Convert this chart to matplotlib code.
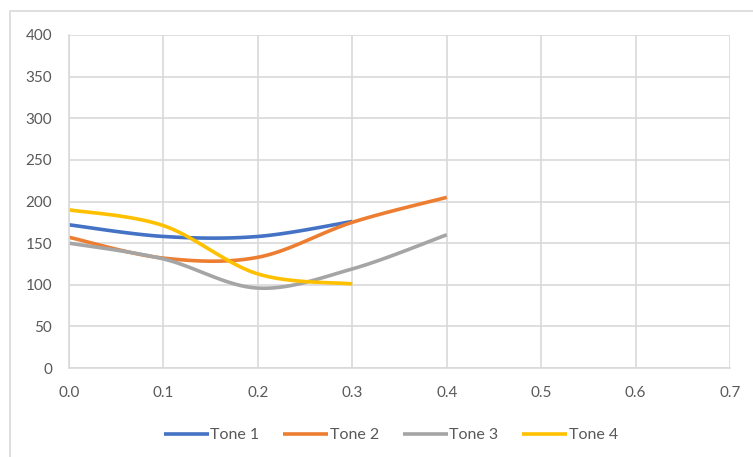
import numpy as np
import matplotlib
matplotlib.use("Agg")
import matplotlib.pyplot as plt
from matplotlib.patches import Rectangle

# data
x_vals = [0.0, 0.1, 0.2, 0.3, 0.4]
tone1 = [172, 158, 158, 176]
tone2 = [157, 132, 133, 175, 205]
tone3 = [150, 131, 96, 119, 160]
tone4 = [190, 171, 113, 101]
names = ["Tone 1", "Tone 2", "Tone 3", "Tone 4"]
colors = ["#4472c4", "#ed7d31", "#a5a5a5", "#ffc000"]


def smooth(xs, ys, n=30):
    # excel-style smoothed line: bezier through points
    xs = np.asarray(xs, float)
    ys = np.asarray(ys, float)
    px, py = [], []
    for i in range(len(xs) - 1):
        x0, y0 = xs[max(i - 1, 0)], ys[max(i - 1, 0)]
        x1, y1 = xs[i], ys[i]
        x2, y2 = xs[i + 1], ys[i + 1]
        x3, y3 = xs[min(i + 2, len(xs) - 1)], ys[min(i + 2, len(ys) - 1)]
        c1x, c1y = x1 + (x2 - x0) / 6, y1 + (y2 - y0) / 6
        c2x, c2y = x2 - (x3 - x1) / 6, y2 - (y3 - y1) / 6
        t = np.linspace(0, 1, n)
        a = (1 - t) ** 3
        b = 3 * (1 - t) ** 2 * t
        c = 3 * (1 - t) * t ** 2
        d = t ** 3
        px.extend(a * x1 + b * c1x + c * c2x + d * x2)
        py.extend(a * y1 + b * c1y + c * c2y + d * y2)
    return px, py


plt.rcParams['font.family'] = ['Lato', 'DejaVu Sans']
fig = plt.figure(figsize=(7.53, 4.57), dpi=100)
ax = fig.add_axes([69 / 753, 89 / 457, 661 / 753, 333 / 457])

for ys, name, col in zip([tone1, tone2, tone3, tone4], names, colors):
    sx, sy = smooth(x_vals[:len(ys)], ys)
    ax.plot(sx, sy, color=col, lw=2.6, label=name, solid_capstyle='butt')

ax.set_xlim(0, 0.7)
ax.set_ylim(0, 400)
ax.set_xticks(np.arange(0, 0.71, 0.1))
ax.set_xticklabels(["%.1f" % v for v in np.arange(0, 0.71, 0.1)])
ax.set_yticks(range(0, 401, 50))
ax.grid(True, color="#d9d9d9", lw=1.2)
ax.set_axisbelow(True)
for s in ax.spines.values():
    s.set_visible(False)
ax.spines['left'].set_visible(True)
ax.spines['bottom'].set_visible(True)
ax.spines['left'].set_color("#d9d9d9")
ax.spines['bottom'].set_color("#d9d9d9")
ax.spines['left'].set_linewidth(1.2)
ax.spines['bottom'].set_linewidth(1.2)
ax.tick_params(length=0, labelsize=11, labelcolor="#595959")
ax.tick_params(axis='y', pad=12)
ax.tick_params(axis='x', pad=13)

ax.legend(loc='center', bbox_to_anchor=(391 / 753, 22 / 457), bbox_transform=fig.transFigure,
          ncol=4, frameon=False, fontsize=11.5, labelcolor="#595959",
          handlelength=2.8, handletextpad=0.1, columnspacing=1.5)

fig.patches.append(Rectangle((10 / 753, -0.1), 1.0, (446 / 457) + 0.1, transform=fig.transFigure,
                             fill=False, edgecolor="#d9d9d9", lw=1.2))

fig.savefig("out.png", dpi=100)
